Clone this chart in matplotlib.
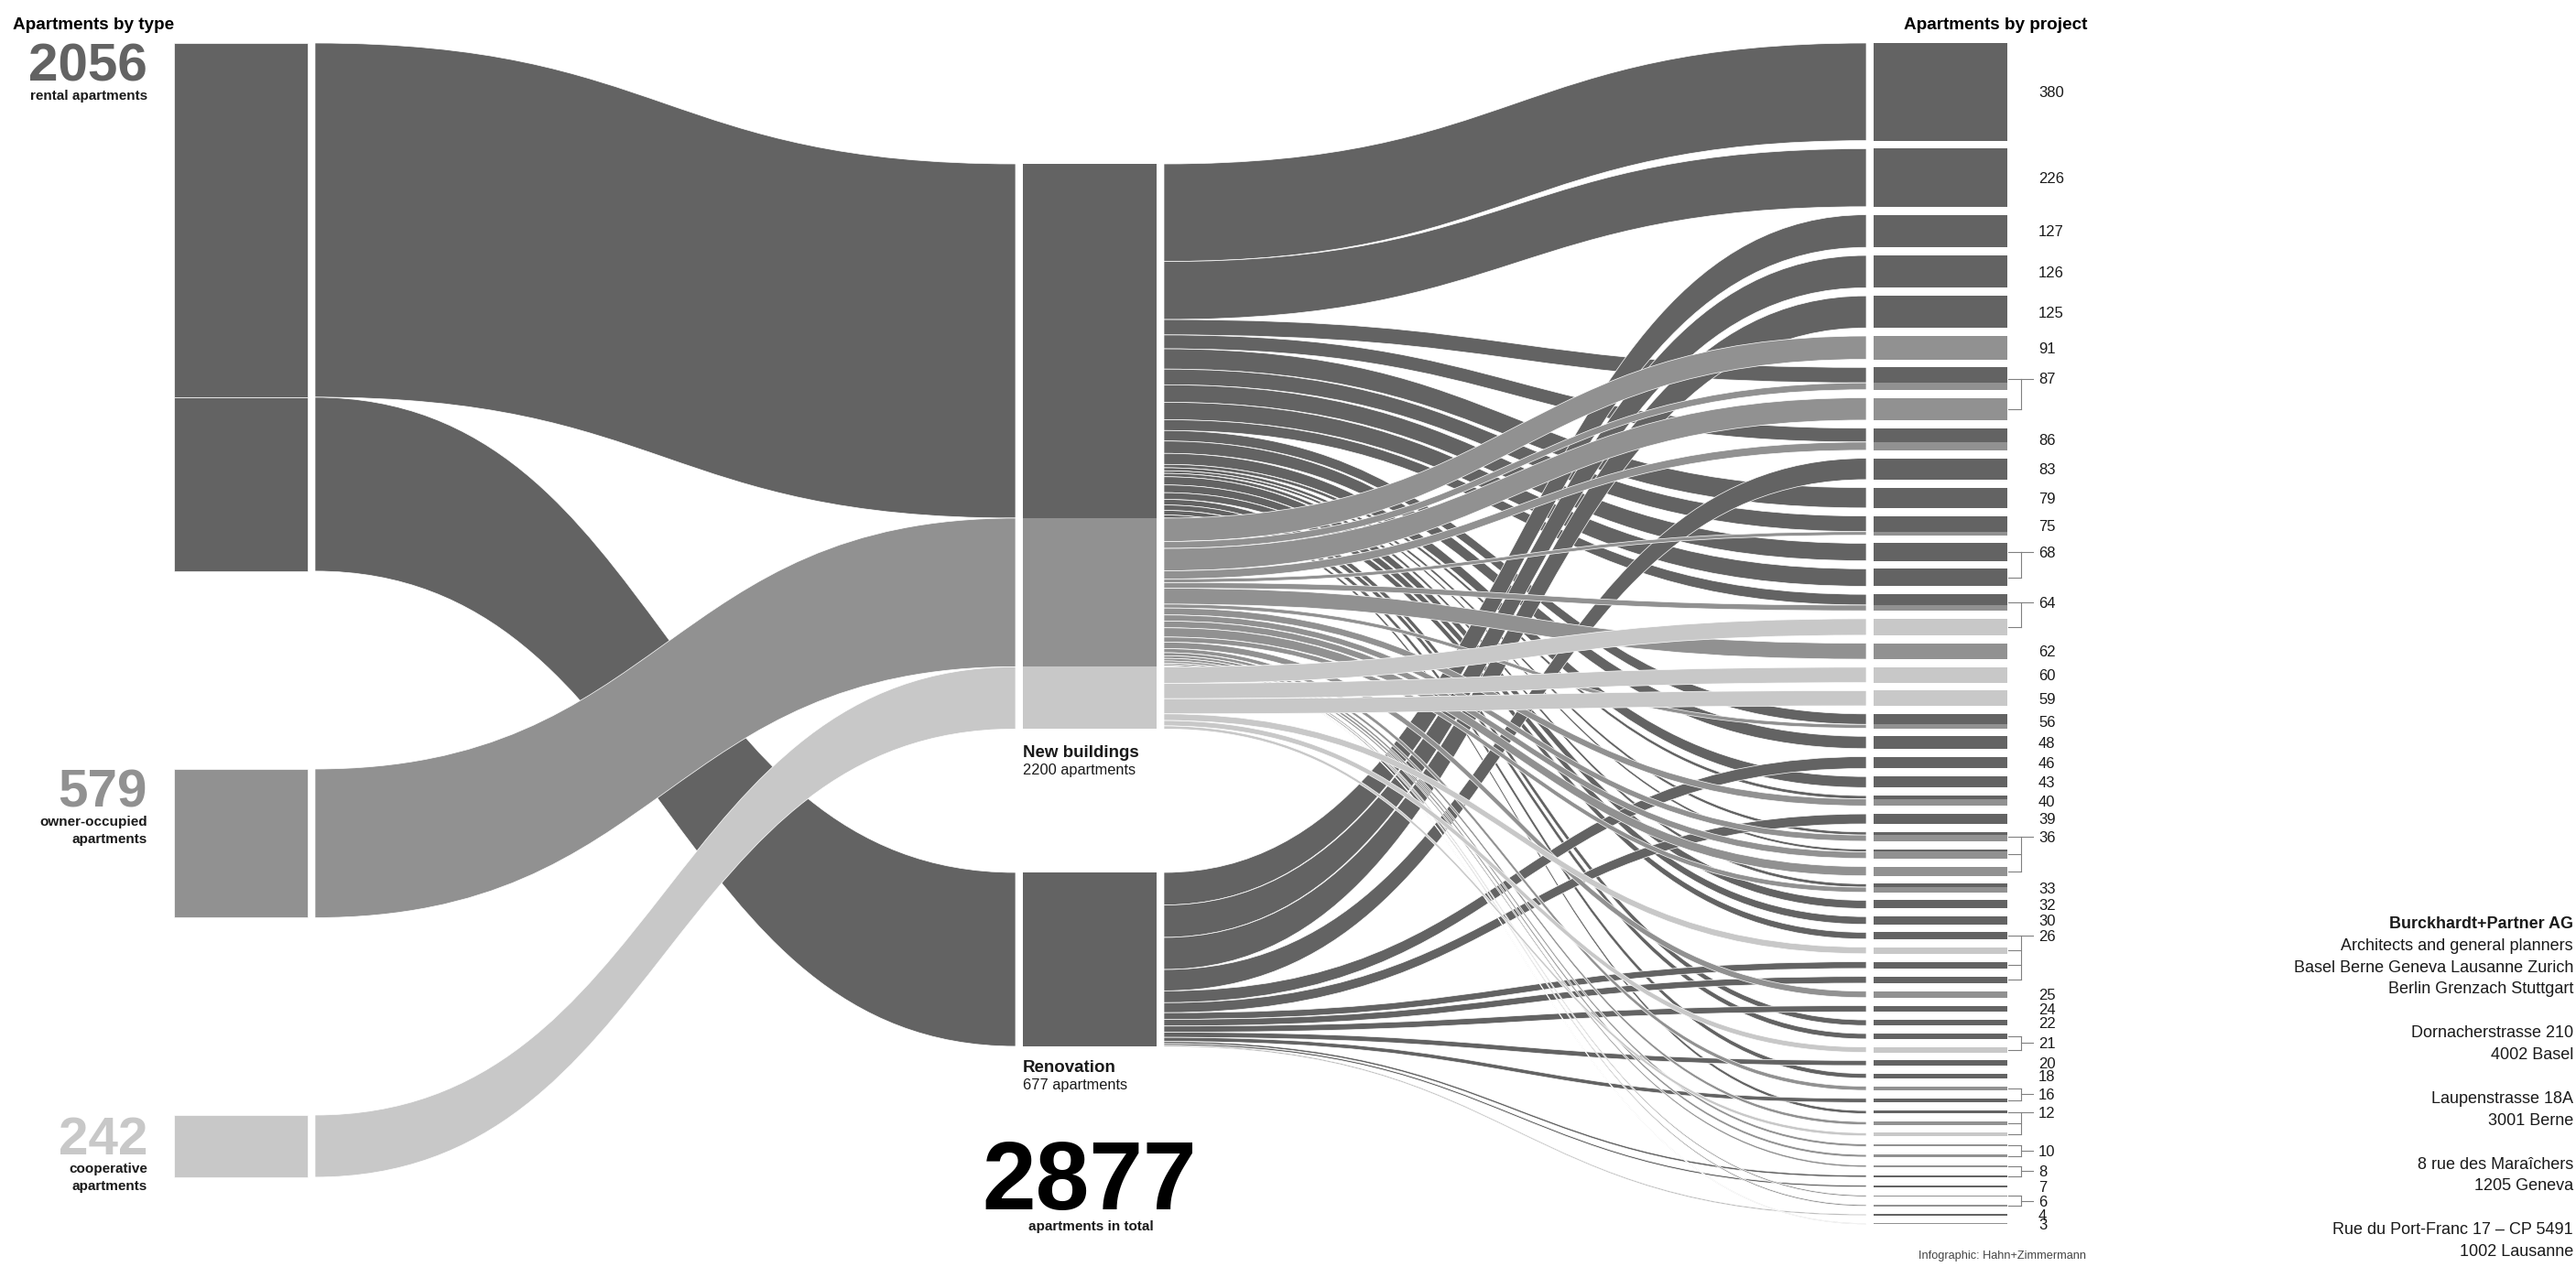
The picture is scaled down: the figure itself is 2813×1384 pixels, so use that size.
import matplotlib
matplotlib.use('Agg')
import matplotlib.pyplot as plt
from matplotlib.path import Path
from matplotlib.patches import PathPatch, Rectangle

plt.rcParams['font.family'] = ['Liberation Sans', 'DejaVu Sans']

# --- data -------------------------------------------------------------
type_totals = [2056, 579, 242]          # rental, owner-occupied, cooperative
type_lines = [['rental apartments'],
              ['owner-occupied', 'apartments'],
              ['cooperative', 'apartments']]
type_colors = ['#636363', '#919191', '#c8c8c8']

cat_names = ['New buildings', 'Renovation']

# apartments per project, split by type
proj_rental = [380, 226, 127, 126, 125, 0, 60, 0, 54, 83,
               79, 61, 68, 68, 42, 0, 0, 0, 0, 41,
               48, 46, 43, 13, 39, 12, 10, 0, 13, 32,
               30, 26, 0, 26, 26, 0, 24, 22, 21, 0,
               20, 18, 0, 16, 12, 0, 0, 0, 0, 0,
               8, 7, 0, 0, 4, 0]
proj_owner = [0, 0, 0, 0, 0, 91, 27, 87, 32, 0,
              0, 14, 0, 0, 22, 0, 62, 0, 0, 15,
              0, 0, 0, 27, 0, 24, 26, 36, 20, 0,
              0, 0, 0, 0, 0, 25, 0, 0, 0, 0,
              0, 0, 16, 0, 0, 12, 0, 10, 10, 8,
              0, 0, 6, 6, 0, 3]
proj_coop = [0, 0, 0, 0, 0, 0, 0, 0, 0, 0,
             0, 0, 0, 0, 0, 64, 0, 60, 59, 0,
             0, 0, 0, 0, 0, 0, 0, 0, 0, 0,
             0, 0, 26, 0, 0, 0, 0, 0, 0, 21,
             0, 0, 0, 0, 0, 0, 12, 0, 0, 0,
             0, 0, 0, 0, 0, 0]
# 0 = new building, 1 = renovation
proj_cat = [0, 0, 1, 1, 1, 0, 0, 0, 0, 1,
            0, 0, 0, 0, 0, 0, 0, 0, 0, 0,
            0, 1, 0, 0, 1, 0, 0, 0, 0, 0,
            0, 0, 0, 1, 1, 0, 1, 0, 0, 0,
            1, 0, 0, 1, 0, 0, 0, 0, 0, 0,
            1, 1, 0, 0, 1, 0]

address = ['Burckhardt+Partner AG', 'Architects and general planners',
           'Basel Berne Geneva Lausanne Zurich', 'Berlin Grenzach Stuttgart', '',
           'Dornacherstrasse 210', '4002 Basel', '',
           'Laupenstrasse 18A', '3001 Berne', '',
           '8 rue des Maraîchers', '1205 Geneva', '',
           'Rue du Port-Franc 17 – CP 5491', '1002 Lausanne']

# --- derived ------------------------------------------------------------
proj_parts = [list(p) for p in zip(proj_rental, proj_owner, proj_coop)]
proj_total = [sum(p) for p in proj_parts]
n_proj = len(proj_total)
type_cat = [[0, 0], [0, 0], [0, 0]]
for i in range(n_proj):
    for t in range(3):
        type_cat[t][proj_cat[i]] += proj_parts[i][t]
cat_totals = [sum(type_cat[t][c] for t in range(3)) for c in range(2)]
grand_total = sum(proj_total)

# --- layout (pixels) ----------------------------------------------------
W, H = 2813, 1384
S = 0.2806               # px per apartment
XL = (190, 336)
XM = (1117, 1263)
XR = (2046, 2192)
FG = 8                   # gap between node and band
left_top = [47, 840, 1218]
mid_top = [179, 953]
right_top, right_gap = 47, 8.78

fig = plt.figure(figsize=(W / 100, H / 100), dpi=100)
ax = fig.add_axes([0, 0, 1, 1])
ax.set_xlim(0, W)
ax.set_ylim(H, 0)
ax.axis('off')


def band(x0, a0, b0, x1, a1, b1, color):
    xm = (x0 + x1) / 2
    verts = [(x0, a0), (xm, a0), (xm, a1), (x1, a1), (x1, b1),
             (xm, b1), (xm, b0), (x0, b0), (x0, a0)]
    codes = [Path.MOVETO, Path.CURVE4, Path.CURVE4, Path.CURVE4, Path.LINETO,
             Path.CURVE4, Path.CURVE4, Path.CURVE4, Path.CLOSEPOLY]
    ax.add_patch(PathPatch(Path(verts, codes), facecolor=color,
                           edgecolor='white', lw=0.5, zorder=1))


def txt(x, yc, s, size, ha='left', weight='normal', color='#1a1a1a'):
    ax.text(x, yc + 0.355 * size * 100 / 72, s, fontsize=size, ha=ha,
            va='baseline', fontweight=weight, color=color)


# right node positions
ry = []
y = right_top
for v in proj_total:
    ry.append(y)
    y += v * S + right_gap

# left flows: type -> category
lcur = list(left_top)
mcur_in = list(mid_top)
for t in range(3):
    for c in range(2):
        v = type_cat[t][c]
        if v == 0:
            continue
        h = v * S
        band(XL[1] + FG, lcur[t], lcur[t] + h, XM[0] - FG,
             mcur_in[c], mcur_in[c] + h, type_colors[t])
        ax.add_patch(Rectangle((XL[0], lcur[t]), XL[1] - XL[0], h,
                               facecolor=type_colors[t], edgecolor='white',
                               lw=0.5, zorder=3))
        ax.add_patch(Rectangle((XM[0], mcur_in[c]), XM[1] - XM[0], h,
                               facecolor=type_colors[t], lw=0, zorder=3))
        lcur[t] += h
        mcur_in[c] += h

# right flows: category -> project, grouped by type at the source
mcur_out = list(mid_top)
rcur = list(ry)
for t in range(3):
    for c in range(2):
        for i in range(n_proj):
            v = proj_parts[i][t]
            if v == 0 or proj_cat[i] != c:
                continue
            h = v * S
            band(XM[1] + FG, mcur_out[c], mcur_out[c] + h, XR[0] - FG,
                 rcur[i], rcur[i] + h, type_colors[t])
            mcur_out[c] += h
            rcur[i] += h

# right nodes
for i in range(n_proj):
    y = ry[i]
    for t in range(3):
        h = proj_parts[i][t] * S
        if h > 0:
            ax.add_patch(Rectangle((XR[0], y), XR[1] - XR[0], h,
                                   facecolor=type_colors[t], lw=0, zorder=3))
            y += h

# project labels with brackets for equal values
centers = [ry[i] + proj_total[i] * S / 2 for i in range(n_proj)]
XB, XLAB = 2207, 2226
i = 0
while i < n_proj:
    j = i
    while j + 1 < n_proj and proj_total[j + 1] == proj_total[i]:
        j += 1
    if j == i:
        txt(XLAB, centers[i], str(proj_total[i]), 12)
    else:
        c0, c1 = centers[i], centers[j]
        for k in range(i, j + 1):
            ax.plot([XR[1] + 1, XB], [centers[k], centers[k]], color='#808080', lw=0.8)
        ax.plot([XB, XB], [c0, c1], color='#808080', lw=0.8)
        ly = (c0 + c1) / 2 if c1 - c0 < 20 else c0
        ax.plot([XB, XLAB - 6], [ly, ly], color='#808080', lw=0.8)
        txt(XLAB, ly, str(proj_total[i]), 12)
    i = j + 1

# left labels
num_y = [68, 861, 1240]
for t in range(3):
    txt(161, num_y[t], str(type_totals[t]), 42, ha='right', weight='bold',
        color=type_colors[t])
    for k, line in enumerate(type_lines[t]):
        txt(161, num_y[t] + 36 + k * 19, line, 11, ha='right', weight='bold')

# middle labels
cat_label_y = [820, 1164]
for c in range(2):
    txt(XM[0], cat_label_y[c], cat_names[c], 13.5, weight='bold')
    txt(XM[0], cat_label_y[c] + 20, f'{cat_totals[c]} apartments', 11.8)

txt(1190, 1284, str(grand_total), 76, ha='center', weight='bold', color='black')
txt(1191, 1339, 'apartments in total', 11, ha='center', weight='bold')

# titles and credits
txt(14, 25, 'Apartments by type', 13.6, weight='bold', color='black')
txt(2079, 25, 'Apartments by project', 13.6, weight='bold', color='black')
txt(2278, 1370, 'Infographic: Hahn+Zimmermann', 9.2, ha='right', color='#444444')

y = 1008
for line in address:
    if line:
        txt(2810, y, line, 13, ha='right',
            weight='bold' if line == address[0] else 'normal')
    y += 23.6 if line else 24.5

fig.savefig('out.png', dpi=100)
